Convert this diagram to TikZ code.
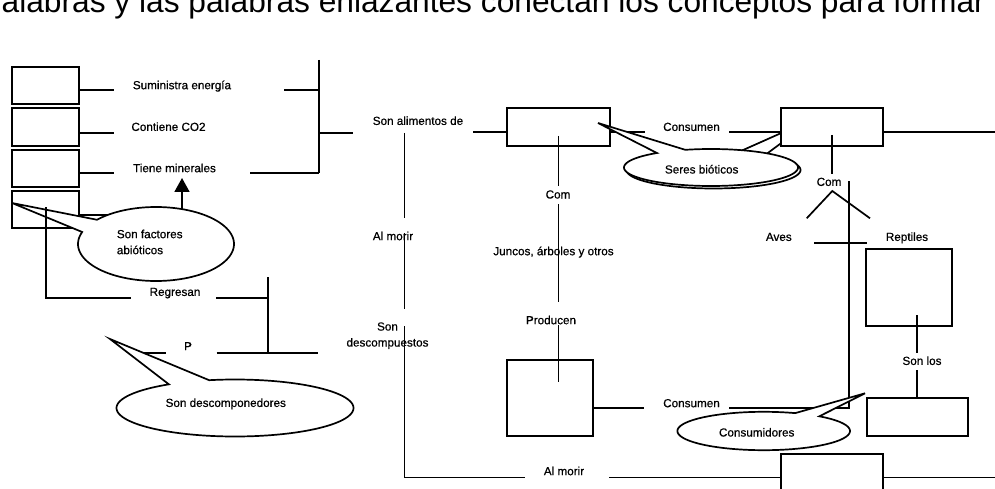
\documentclass[tikz,border=0pt]{standalone}
\usepackage{fontspec}
\setmainfont{Liberation Sans}
\newfontface\lblface{Liberation Sans}[FakeBold=0.6]
\usetikzlibrary{arrows.meta,calc}
\tikzset{
  ln/.style={line width=1.7pt},
  box/.style={draw, line width=1.7pt, fill=white, inner sep=0pt},
  lbl/.style={font=\lblface\fontsize{11.7}{16}\selectfont, inner sep=0pt, anchor=base},
  ctext/.style={font=\lblface\fontsize{11.7}{16}\selectfont, inner sep=0pt},
}
\begin{document}
\begin{tikzpicture}[x=1pt,y=-1pt]
\clip (0,0) rectangle (995,489);
\fill[white] (0,0) rectangle (995,489);

% title (cut at the top)
\node[anchor=base west, inner sep=0pt, font=\fontsize{31.7}{38}\selectfont] (title) at (1.5,12.5)
  {alabras y las palabras enlazantes conectan los conceptos para formar};

% ---------- left column of boxes ----------
\node[box, minimum width=67pt, minimum height=37pt] (b1) at (45.5,85.5) {};
\node[box, minimum width=67pt, minimum height=38pt] (b2) at (45.5,127) {};
\node[box, minimum width=67pt, minimum height=37pt] (b3) at (45.5,168.5) {};
\node[box, minimum width=67pt, minimum height=37pt] (b4) at (45.5,209.5) {};

\node[lbl] (sum) at (182,89.2) {Suministra energía};
\node[lbl] (co2) at (168.5,130.9) {Contiene CO2};
\node[lbl] (min) at (174.5,172.2) {Tiene minerales};

\draw[ln] ([yshift=-4.5pt]b1.east) -- (114,90);
\draw[ln] ([yshift=-6pt]b2.east) -- (114,133);
\draw[ln] ([yshift=-4.5pt]b3.east) -- (114,173);
\draw[ln] ([yshift=-5.5pt]b4.east) -- (114,215);

\coordinate (jv) at (319,133);
\draw[ln] (284,90) -- (319,90);
\draw[ln] (250,173) -- (319,173);
\draw[ln] (319,60) -- (319,173);
\draw[ln] (jv) -- (353,133);

% callout: Son factores abioticos
\draw[ln, fill=white] plot[domain=220.9:558.9, samples=140] ({156+78*cos(\x)},{244+37*sin(\x)}) -- (12,203) -- cycle;
\node[ctext, align=left, anchor=north west] (abio) at (116.7,229.5) {Son factores\\abióticos};
\draw[ln, -{Triangle[width=15pt,length=14pt]}] (182,209.5) -- (182,178);

% regresan
\draw[ln] (45.7,207) -- (45.7,298) -- (130.7,298);
\node[lbl] (reg) at (175,295.9) {Regresan};
\draw[ln] (216,298) -- (267.7,298);
\draw[ln] (267.7,277.3) -- (267.7,353.3);
\draw[ln] (216.7,353.3) -- (318.3,353.3);
\draw[ln] (143,353.3) -- (165.7,353.3);
\node[lbl] (p) at (188,350.2) {P};

% callout: Son descomponedores
\draw[ln, fill=white] plot[domain=257.4:596.1, samples=160] ({235+118.5*cos(\x)},{408+28.5*sin(\x)}) -- (110,339) -- cycle;
\node[lbl] (desc) at (225.8,406.9) {Son descomponedores};

% ---------- middle ----------
\node[lbl] (ali) at (418,124.9) {Son alimentos de};
\node[box, minimum width=103pt, minimum height=38pt] (bA) at (558.5,127) {};
\draw[ln] (473,132) -- ([yshift=-5pt]bA.west);
\draw[ln] ([yshift=-5pt]bA.east) -- (645,132);

\draw[ln] (404.5,133) -- (404.5,218);
\node[lbl] (morir1) at (393,240.2) {Al morir};
\draw[ln] (404.5,233) -- (404.5,309);
\node[ctext, align=center] (descp) at (387.5,335.7) {Son\\descompuestos};
\draw[ln] (404.5,326) -- (404.5,477.5) -- (525,477.5);
\node[lbl] (morir2) at (564,475.2) {Al morir};

\draw[ln] (558.5,136) -- (558.5,186);
\node[lbl] (com1) at (558,198.5) {Com};
\draw[ln] (558.5,204) -- (558.5,302);
\node[lbl] (jun) at (553.5,255.2) {Juncos, árboles y otros};
\node[lbl] (prod) at (551,324.2) {Producen};
\node[box, minimum width=86pt, minimum height=76pt] (bB) at (550,398) {};
\draw[ln] (558.5,325) -- (558.5,382);
\draw[ln] ([yshift=-10.3pt]bB.east) -- (644,408.3);
\node[lbl] (cons2) at (691.5,407.2) {Consumen};

% ---------- right ----------
\node[lbl] (cons1) at (691.5,130.9) {Consumen};
\draw[ln] (729,132) -- (781,132);

% back callout of Seres bioticos (pointer hidden by the box)
\draw[ln, fill=white] plot[domain=306.3:646.4, samples=140] ({713.5+87*cos(\x)},{170+18.5*sin(\x)}) -- (815,118) -- cycle;
\node[box, minimum width=102pt, minimum height=38pt] (bF) at (832,127) {};
\draw[ln] ([yshift=-5pt]bF.east) -- (995,132);
% front callout
\draw[ln, fill=white] plot[domain=252.8:591.6, samples=140] ({711+87*cos(\x)},{167.5+18.5*sin(\x)}) -- (598,123) -- cycle;
\node[lbl] (seres) at (701.7,173.5) {Seres bióticos};

\draw[ln] (832.3,135) -- (832.3,174.3);
\node[lbl] (com2) at (829,185.9) {Com};
\draw[ln] (806.7,218.3) -- (832.3,191) -- (870,218.3);
\node[lbl] (aves) at (778.8,240.9) {Aves};
\node[lbl] (rep) at (907,240.9) {Reptiles};
\draw[ln] (814.3,243.3) -- (866.7,243.3);
\draw[ln] (729,408.3) -- (849.3,408.3) -- (849.3,180.7);

\node[box, minimum width=86pt, minimum height=77pt] (bE) at (909,287.5) {};
\draw[ln] (917,315) -- (917,353);
\node[lbl] (sonlos) at (922,364.9) {Son los};
\node[box, minimum width=101pt, minimum height=38pt] (bC) at (917.5,417) {};
\draw[ln] (917,370) -- (bC.north -| 917,0);

% callout: Consumidores
\draw[ln, fill=white] plot[domain=310.1:651.4, samples=140] ({763.7+86.3*cos(\x)},{431+19.2*sin(\x)}) -- (865,393.3) -- cycle;
\node[lbl] (consu) at (756.7,436.5) {Consumidores};

% bottom box
\node[box, minimum width=102pt, minimum height=46pt] (bD) at (832,477) {};
\draw[ln] (609,477.5) -- (bD.west |- 0,477.5);
\draw[ln] (bD.east |- 0,477.5) -- (995,477.5);
\end{tikzpicture}
\end{document}
